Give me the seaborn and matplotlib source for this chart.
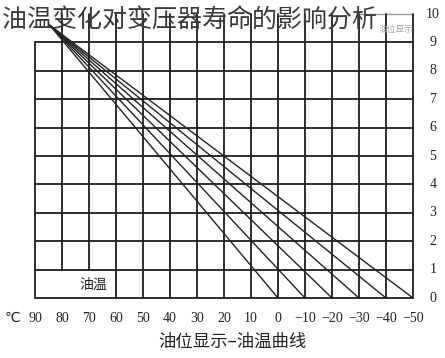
import matplotlib
matplotlib.use("Agg")
import matplotlib.pyplot as plt
import seaborn as sns
import pandas as pd

sns.set_theme(style="white")
plt.rcParams['font.family'] = ['Noto Sans CJK SC', 'DejaVu Sans']

# ---- data ----
temp_ticks = [90, 80, 70, 60, 50, 40, 30, 20, 10, 0, -10, -20, -30, -40, -50]
temp_labels = ["90", "80", "70", "60", "50", "40", "30", "20", "10", "0",
               "−10", "−20", "−30", "−40", "−50"]
level_ticks = [0, 1, 2, 3, 4, 5, 6, 7, 8, 9, 10]
level_labels = ["0", "1", "2", "3", "4", "5", "6", "7", "8", "9", "10"]

fan_start_temp = 84.5
fan_start_level = 9.6
fan_end_temps = [0, -10, -20, -30, -40, -50]
fan_end_level = 0

title = "油温变化对变压器寿命的影响分析"
xlabel = "油位显示–油温曲线"
box_low_text = "油温"
box_top_text = "油位显示"
unit = "℃"

rows = []
for i, t in enumerate(fan_end_temps):
    rows.append({"series": i, "temp": fan_start_temp, "level": fan_start_level})
    rows.append({"series": i, "temp": t, "level": fan_end_level})
df = pd.DataFrame(rows)

# ---- figure ----
W, H = 445, 358
fig = plt.figure(figsize=(W / 100, H / 100), dpi=100)
ax = fig.add_axes([0, 0, 1, 1])

px_per_deg = 2.7
px_per_lvl = 28.4
xlim = (90 + 35 / px_per_deg, 90 - (W - 35) / px_per_deg)
ylim = (-(H - 298) / px_per_lvl, 298 / px_per_lvl)

gc = "#1e1e1e"
glw = 1.3
tmax, tmin = temp_ticks[0], temp_ticks[-1]
lmax = level_ticks[-1]
# horizontal grid lines 0..9
for lv in level_ticks[:-1]:
    ax.plot([tmax, tmin], [lv, lv], color=gc, lw=glw, solid_capstyle="butt")
# top box line (level 10) above the two right-most columns
ax.plot([temp_ticks[-3], tmin], [lmax, lmax], color="#999999", lw=1.0)
# vertical grid lines
for t in temp_ticks:
    if t == tmax:
        ax.plot([t, t], [0, level_ticks[-2]], color=gc, lw=glw)
    elif t in (80, 70):
        ax.plot([t, t], [1, lmax], color=gc, lw=glw)
    else:
        ax.plot([t, t], [0, lmax], color=gc, lw=glw)

# fan lines
sns.lineplot(data=df, x="temp", y="level", units="series", estimator=None,
             color="#222222", lw=1.0, ax=ax, legend=False, sort=False)
ax.set_xlim(*xlim)
ax.set_ylim(*ylim)
ax.set_axis_off()

serif = ['Liberation Serif', 'DejaVu Serif']
# x tick labels
ylab = -20 / px_per_lvl
for t, s in zip(temp_ticks, temp_labels):
    ax.text(t, ylab, s, ha="center", va="center", fontsize=10,
            family=serif, color="#222222")
ax.text(98.5, ylab, unit, ha="center", va="center", fontsize=10,
        family=['Liberation Serif', 'DejaVu Sans'], color="#222222")
# y tick labels on the right
xr = 90 - (433 - 35) / px_per_deg
for lv, s in zip(level_ticks, level_labels):
    ax.text(xr, lv, s, ha="center", va="center", fontsize=10,
            family=serif, color="#222222")

# box texts
ax.text(68.5, 0.45, box_low_text, ha="center", va="center", fontsize=10,
        color="#222222")
ax.text(-50.3, 9.45, box_top_text, ha="right", va="center", fontsize=6.3,
        color="#aaaaaa")

# titles
fig.text(2 / W, 1 - 21 / H, title, ha="left", va="center", fontsize=18,
         color="#3a3a3a", fontweight="light")
fig.text(232 / W, 1 - 342 / H, xlabel, ha="center", va="center", fontsize=12.5,
         color="#222222")

fig.savefig("out.png", dpi=100)
